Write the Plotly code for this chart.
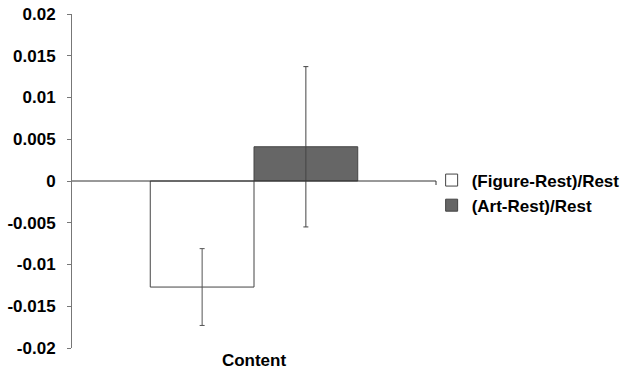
import plotly.graph_objects as go

categories = ["Content"]
series_names = ["(Figure-Rest)/Rest", "(Art-Rest)/Rest"]
figure_vals = [-0.0127]
figure_err = [0.0046]
art_vals = [0.0041]
art_err = [0.0096]
ytick_vals = [0.02, 0.015, 0.01, 0.005, 0, -0.005, -0.01, -0.015, -0.02]
ytick_text = ["0.02", "0.015", "0.01", "0.005", "0", "-0.005", "-0.01", "-0.015", "-0.02"]

font_family = "Liberation Sans, Arial, sans-serif"
fsize = 17

fig = go.Figure()
fig.add_trace(go.Bar(
    x=categories, y=figure_vals, name=series_names[0],
    marker=dict(color="white", line=dict(color="#444444", width=1)),
    error_y=dict(type="data", array=figure_err, visible=True, color="#555555", thickness=1, width=2.5),
))
fig.add_trace(go.Bar(
    x=categories, y=art_vals, name=series_names[1],
    marker=dict(color="#666666", line=dict(color="#444444", width=1)),
    error_y=dict(type="data", array=art_err, visible=True, color="#444444", thickness=1, width=2.5),
))

# zero baseline across plot
fig.add_shape(type="line", xref="paper", yref="y", x0=0, x1=1, y0=0, y1=0,
              line=dict(color="#333333", width=1), layer="above")
fig.add_shape(type="line", xref="paper", yref="y", x0=1, x1=1,
              ysizemode="pixel", yanchor=0, y0=0, y1=-4,
              line=dict(color="#333333", width=1))

fig.update_layout(
    width=628, height=369,
    margin=dict(l=72, r=192, t=14, b=21, autoexpand=False),
    plot_bgcolor="white", paper_bgcolor="white",
    barmode="group", bargap=0.43, bargroupgap=0,
    font=dict(family=font_family, size=fsize, color="black", weight="bold"),
    showlegend=True,
    legend=dict(x=0.988, xanchor="left", y=0.464, yanchor="middle",
                font=dict(family=font_family, size=fsize, color="black", weight="bold"),
                bgcolor="rgba(0,0,0,0)"),
    xaxis=dict(showline=False, ticks="", showgrid=False, zeroline=False, automargin=False,
               tickfont=dict(size=fsize, weight="bold"), ticklabelstandoff=0),
    yaxis=dict(range=[-0.02, 0.02], tickvals=ytick_vals, ticktext=ytick_text,
               showgrid=False, zeroline=False, showline=True, linecolor="#777777",
               linewidth=1, ticks="outside", ticklen=4, tickcolor="#777777", automargin=False,
               ticklabeloverflow="allow",
               tickfont=dict(size=fsize, weight="bold"), ticklabelstandoff=8),
)

fig.write_html("out.html", config={"displayModeBar": False},
               post_script="document.body.style.margin='0';")
